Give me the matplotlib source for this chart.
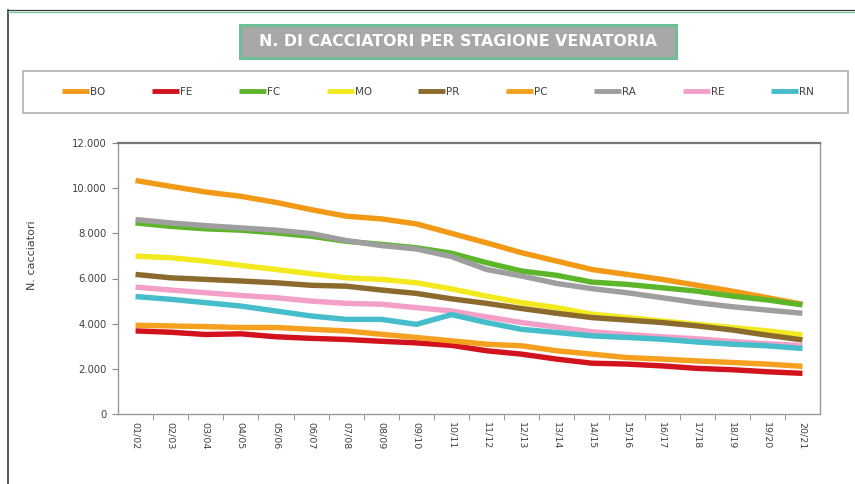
import matplotlib
matplotlib.use("Agg")
import matplotlib.pyplot as plt
from matplotlib.patches import Rectangle
from matplotlib.lines import Line2D
from matplotlib.ticker import FuncFormatter, FixedLocator

seasons = ["01/02", "02/03", "03/04", "04/05", "05/06", "06/07", "07/08", "08/09", "09/10", "10/11",
           "11/12", "12/13", "13/14", "14/15", "15/16", "16/17", "17/18", "18/19", "19/20", "20/21"]

BO = [10340, 10080, 9830, 9640, 9370, 9050, 8760, 8640, 8420, 8000,
      7580, 7140, 6770, 6400, 6180, 5960, 5700, 5440, 5150, 4860]
FE = [3680, 3620, 3520, 3550, 3420, 3350, 3300, 3220, 3150, 3040,
      2800, 2650, 2430, 2250, 2210, 2130, 2020, 1960, 1870, 1800]
FC = [8460, 8310, 8200, 8140, 8020, 7870, 7650, 7510, 7360, 7120,
      6700, 6330, 6140, 5840, 5740, 5590, 5440, 5220, 5050, 4830]
MO = [6990, 6920, 6770, 6580, 6400, 6210, 6030, 5960, 5810, 5540,
      5220, 4930, 4710, 4420, 4270, 4120, 3970, 3830, 3680, 3500]
PR = [6180, 6030, 5960, 5890, 5810, 5700, 5660, 5490, 5340, 5100,
      4900, 4670, 4460, 4270, 4160, 4050, 3900, 3720, 3490, 3280]
PC = [3930, 3900, 3870, 3830, 3830, 3750, 3680, 3530, 3390, 3240,
      3090, 3020, 2800, 2650, 2500, 2430, 2350, 2280, 2210, 2110]
RA = [8610, 8460, 8340, 8240, 8140, 7990, 7680, 7460, 7310, 6970,
      6400, 6110, 5780, 5550, 5370, 5150, 4930, 4750, 4600, 4460]
RE = [5620, 5490, 5370, 5250, 5150, 5000, 4900, 4860, 4710, 4560,
      4300, 4050, 3850, 3640, 3520, 3420, 3330, 3210, 3110, 3030]
RN = [5200, 5080, 4930, 4780, 4560, 4340, 4190, 4190, 3970, 4400,
      4050, 3750, 3610, 3460, 3390, 3310, 3190, 3090, 3020, 2900]

series_names = ["BO", "FE", "FC", "MO", "PR", "PC", "RA", "RE", "RN"]
series_values = [BO, FE, FC, MO, PR, PC, RA, RE, RN]
colors = ["#F29A16", "#D2121C", "#5DB52A", "#F2EA1E", "#8C6A2E", "#F5A01E", "#9E9E9E", "#F2A0C8", "#45BDCB"]

W, H = 855, 484
fig = plt.figure(figsize=(W / 100, H / 100), dpi=100)

def fx(px):
    return px / W

def fy(py):
    return 1 - py / H

# outer frame
fig.add_artist(Line2D([fx(8), fx(8)], [fy(10), fy(484)], color="#3a3a3a", lw=1.2))
fig.add_artist(Line2D([fx(8), 1], [fy(10), fy(10)], color="#3a3a3a", lw=0.9))
fig.add_artist(Line2D([fx(8), 1], [fy(12), fy(12)], color="#7CC8A0", lw=1.0))

# title box
fig.add_artist(Rectangle((fx(240), fy(58)), fx(676) - fx(240), fy(25) - fy(58),
                         facecolor="#A8A8A8", edgecolor="#6DBE92", lw=2.2))
fig.text(fx(458), fy(41.5), "N. DI CACCIATORI PER STAGIONE VENATORIA", color="white",
         fontsize=11.3, fontweight="bold", ha="center", va="center")

ax = fig.add_axes([fx(118), fy(414), fx(820) - fx(118), fy(143) - fy(414)])
x = list(range(len(seasons)))
handles = []
for name, vals, c in zip(series_names, series_values, colors):
    h, = ax.plot(x, vals, color=c, lw=3.9, solid_capstyle="butt", label=name)
    handles.append(h)

ax.set_xlim(-0.5, len(seasons) - 0.5)
ax.set_ylim(0, 12000)
ax.set_yticks(range(0, 12001, 2000))
ax.yaxis.set_major_formatter(FuncFormatter(lambda v, p: f"{int(v):,}".replace(",", ".")))
ax.set_xticks(x)
ax.set_xticklabels(seasons, rotation=-90, fontsize=6.8, color="#404040")
ax.xaxis.set_minor_locator(FixedLocator([i + 0.5 for i in x[:-1]]))
ax.tick_params(axis="x", which="major", length=0, pad=6)
ax.tick_params(axis="x", which="minor", length=4, color="#888888", direction="out")
ax.tick_params(axis="y", length=4, color="#888888", labelsize=7.2, labelcolor="#404040", pad=4)
for s in ax.spines.values():
    s.set_color("#9a9a9a")
    s.set_linewidth(1.0)
ax.spines["top"].set_color("#777777")
ax.spines["top"].set_linewidth(1.6)

fig.text(fx(32), fy(255), "N. cacciatori", rotation=90, fontsize=8, color="#404040",
         ha="center", va="center")

# legend box
fig.add_artist(Rectangle((fx(23), fy(113)), fx(848) - fx(23), fy(71) - fy(113),
                         facecolor="none", edgecolor="#B0B0B0", lw=1.2))
leg = fig.legend(handles=handles, labels=series_names, ncol=9, loc="center",
                 bbox_to_anchor=(fx(438), fy(92)), frameon=False, fontsize=7.5,
                 handlelength=2.6, handletextpad=0.1, columnspacing=4.45)
for t in leg.get_texts():
    t.set_color("#404040")
for lh in leg.get_lines():
    lh.set_linewidth(3.5)

fig.savefig("out.png", dpi=100)
